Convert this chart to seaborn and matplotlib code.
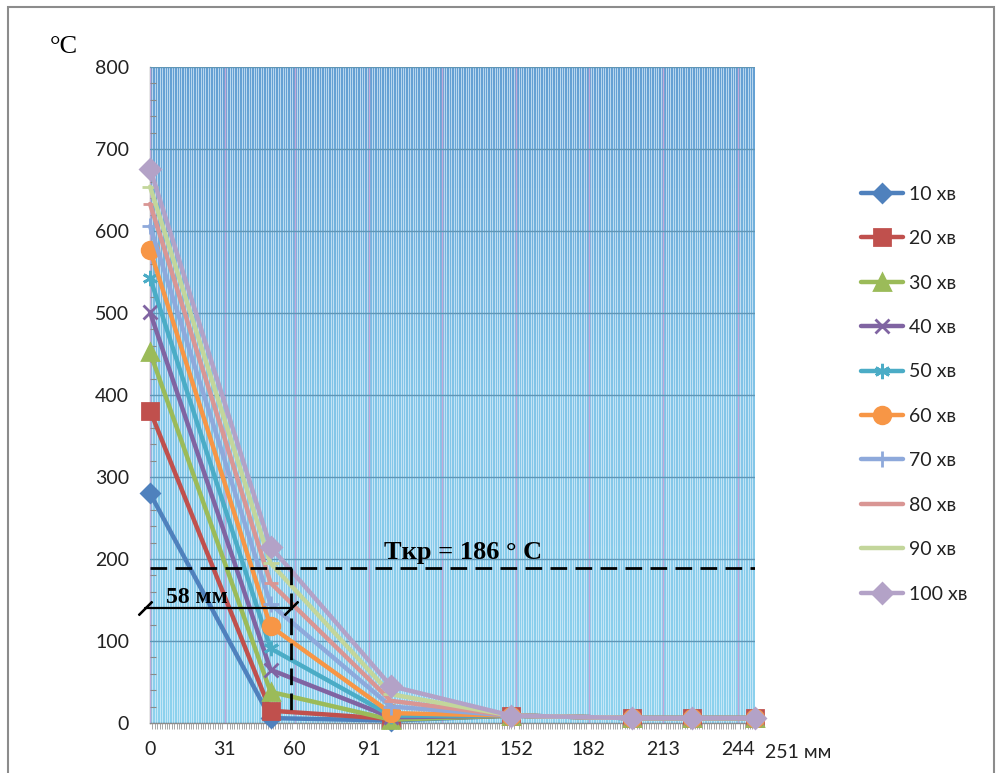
import numpy as np
import pandas as pd
import matplotlib
matplotlib.use("Agg")
import matplotlib.pyplot as plt
import seaborn as sns
from matplotlib.colors import LinearSegmentedColormap
from matplotlib.patches import Rectangle

sns.set_theme(style="white")
plt.rcParams['font.family'] = ['Lato', 'DejaVu Sans']

# ---- data ----
x_mm = [0, 50, 100, 150, 200, 225, 251]
series_labels = ["10 хв", "20 хв", "30 хв", "40 хв", "50 хв",
                 "60 хв", "70 хв", "80 хв", "90 хв", "100 хв"]
t10 = [280, 6, 3, 9, 6, 6, 6]
t20 = [381, 15, 5, 9, 6, 6, 6]
t30 = [452, 38, 4, 9, 6, 6, 6]
t40 = [501, 65, 7, 9, 6, 6, 6]
t50 = [543, 91, 9, 9, 6, 6, 6]
t60 = [577, 118, 12, 9, 6, 6, 6]
t70 = [606, 145, 20, 9, 6, 6, 6]
t80 = [633, 171, 27, 9, 6, 6, 6]
t90 = [654, 195, 35, 9, 6, 6, 6]
t100 = [676, 215, 45, 9, 6, 6, 6]
all_series = [t10, t20, t30, t40, t50, t60, t70, t80, t90, t100]

x_tick_pos = [0, 31, 60, 91, 121, 152, 182, 213, 244]
x_tick_labels = ["0", "31", "60", "91", "121", "152", "182", "213", "244"]
y_ticks = [0, 100, 200, 300, 400, 500, 600, 700, 800]
t_crit = 189
crit_dist = 58.6

colors = ["#4F81BD", "#C0504D", "#9BBB59", "#8064A2", "#4BACC6",
          "#F79646", "#8EA9DB", "#D99694", "#C3D69B", "#B3A2C7"]
markers = ["D", "s", "^", "x", (6, 2, 0), "o", "+", "_", "_", "D"]
msizes = [9, 11, 12, 10, 11, 12, 12, 10, 12, 10]

df = pd.DataFrame({
    "x": np.tile(x_mm, len(all_series)),
    "T": np.concatenate(all_series),
    "series": np.repeat(series_labels, len(x_mm)),
})

fig = plt.figure(figsize=(9.97, 7.73), dpi=100)
ax = fig.add_axes([0.1505, 0.0647, 0.6065, 0.8486])

xmin, xmax = 0, 251
# gradient background
cmap = LinearSegmentedColormap.from_list("bg", ["#8dd2ee", "#82c5e8", "#649fd3"])
grad = np.linspace(0, 1, 256).reshape(-1, 1)
ax.imshow(grad, extent=[xmin, xmax, 0, 800], aspect="auto", cmap=cmap,
          origin="lower", zorder=0)

for i, lab in enumerate(series_labels):
    sub = df[df["series"] == lab]
    sns.lineplot(data=sub, x="x", y="T", ax=ax, color=colors[i],
                 marker=markers[i], markersize=msizes[i],
                 markeredgecolor=colors[i], markerfacecolor=colors[i],
                 markeredgewidth=2, lw=3.2, label=lab, zorder=3 + i,
                 clip_on=False)

ax.set_xlim(xmin, xmax)
ax.set_ylim(0, 800)
ax.set_xticks(x_tick_pos)
ax.set_xticklabels(x_tick_labels)
ax.set_xticks(np.arange(0, 252, 1.0), minor=True)
ax.set_yticks(y_ticks)
ax.set_yticks(np.arange(0, 801, 20), minor=True)
ax.set_xlabel("")
ax.set_ylabel("")

ax.grid(which="minor", axis="x", color="#e4f2fc", lw=0.6, alpha=0.8, zorder=1)
ax.grid(which="major", axis="x", color="#c3a8d8", lw=1.0, zorder=1)
ax.grid(which="major", axis="y", color="#6096b6", lw=1.0, zorder=1)
ax.set_axisbelow(False)
for line in ax.get_xgridlines() + ax.get_ygridlines():
    line.set_zorder(1)

for s in ["top", "right"]:
    ax.spines[s].set_visible(False)
for s in ["left", "bottom"]:
    ax.spines[s].set_color("#8a8a8a")
    ax.spines[s].set_linewidth(1.0)

ax.tick_params(axis="both", which="major", labelsize=14, colors="#222222",
               length=6, width=1, color="#8a8a8a", direction="out")
ax.tick_params(axis="y", which="major", pad=9)
ax.tick_params(axis="x", which="minor", length=4, width=0.6, color="#9a9a9a",
               direction="out", bottom=True)
ax.tick_params(axis="y", which="minor", length=4, width=0.8, color="#8a8a8a",
               direction="in", left=True)
ax.tick_params(axis="x", which="major", pad=7)

# critical temperature annotation
ax.plot([xmin, xmax], [t_crit, t_crit], color="black", lw=2,
        linestyle=(0, (6, 3)), zorder=20)
ax.plot([crit_dist, crit_dist], [t_crit, 8], color="black", lw=2,
        linestyle=(0, (6, 3)), zorder=20)
ax.text(97, 200, "Tкр = 186 ° C", fontsize=19, fontweight="bold",
        family="Liberation Serif", color="black", zorder=21)
ax.plot([-2, crit_dist], [140, 140], color="black", lw=1.6, zorder=20,
        clip_on=False)
ax.plot([-2, crit_dist], [140, 140], linestyle="none", marker=(2, 2, -45),
        markersize=14, mew=1.6, color="black", zorder=20, clip_on=False)
ax.text(6.5, 146, "58 мм", fontsize=17, fontweight="bold",
        family="Liberation Serif", color="black", zorder=21)

# axis unit labels
fig.text(50 / 997, 1 - 47 / 773, "°C", fontsize=19, family="Liberation Serif",
         va="center", ha="left", color="black")
fig.text(765 / 997, 1 - 752 / 773, "251 мм", fontsize=14, va="center",
         ha="left", color="#222222")

leg = ax.legend(loc="upper left", bbox_to_anchor=(853 / 997, 1 - 178 / 773),
                bbox_transform=fig.transFigure, frameon=False,
                fontsize=14, labelspacing=1.41, handlelength=2.15,
                handletextpad=0.35, borderaxespad=0)
for t in leg.get_texts():
    t.set_color("#222222")

# outer frame
fig.patches.append(Rectangle((8 / 997, -0.02), 986 / 997, 1.02 - 7 / 773,
                             transform=fig.transFigure, fill=False,
                             edgecolor="#8c8c8c", lw=1.5))

fig.savefig("out.png", dpi=100)
